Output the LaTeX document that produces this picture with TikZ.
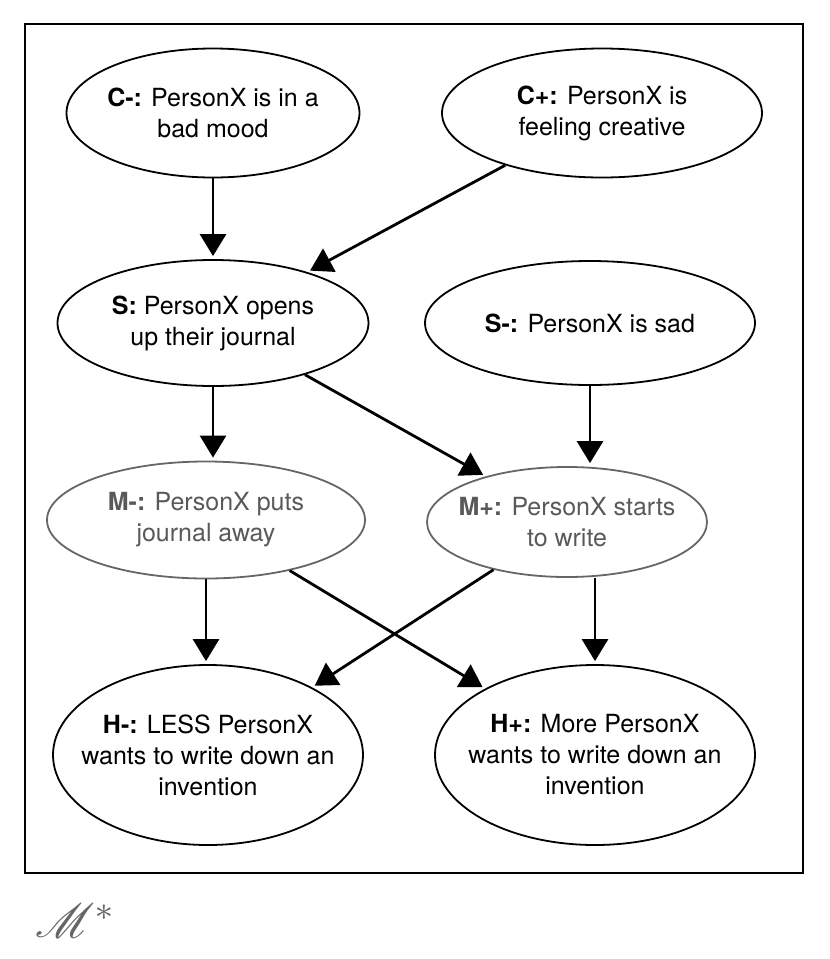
\documentclass[tikz,border=0pt]{standalone}
\usepackage{fontspec}
\setmainfont{TeX Gyre Heros}
\usepackage{mathrsfs}
\usetikzlibrary{arrows.meta,shapes.geometric}
\tikzset{
  ev/.style={draw,ellipse,line width=1.8pt,inner sep=-30pt,align=center,
    font=\fontsize{25}{31}\selectfont},
  greyev/.style={ev,draw=black!60,text=black!65},
  arr/.style={line width=2.8pt,-{Triangle[length=22pt,width=26pt]},shorten >=3pt}
}
\begin{document}
\begin{tikzpicture}[x=1pt,y=-1pt]
\useasboundingbox (0,0) rectangle (830,959);
\draw [line width=2.5pt] (25,24) rectangle (803,873);

% causes
\node[ev,minimum width=293pt,minimum height=129pt] (Cm) at (213,113) {\textbf{C-:} PersonX is in a\\bad mood};
\node[ev,minimum width=320pt,minimum height=129pt] (Cp) at (602,113) {\textbf{C+:} PersonX is\\feeling creative};

% situation
\node[ev,minimum width=311pt,minimum height=126pt] (S) at (213,323) {\textbf{S:} PersonX opens\\up their journal};
\node[ev,minimum width=330pt,minimum height=124pt] (Sm) at (590,323) {\textbf{S-:} PersonX is sad};

% mediators
\node[greyev,minimum width=318pt,minimum height=117pt] (Mm) at (206,520) {\textbf{M-:} PersonX puts\\journal away};
\node[greyev,minimum width=280pt,minimum height=110pt] (Mp) at (567,522) {\textbf{M+:} PersonX starts\\to write};

% hypotheses
\node[ev,minimum width=310pt,minimum height=180pt] (Hm) at (208,755) {\textbf{H-:} LESS PersonX\\wants to write down an\\invention};
\node[ev,minimum width=320pt,minimum height=180pt] (Hp) at (595,755) {\textbf{H+:} More PersonX\\wants to write down an\\invention};

\draw [arr] (Cm.south) -- (Cm.south |- S.north);
\draw [arr] (Cp) -- (S);
\draw [arr] (S.south) -- (S.south |- Mm.north);
\draw [arr] (S) -- (Mp);
\draw [arr] (Sm.south) -- (Sm.south |- Mp.north);
\draw [arr] (Mm.south) -- (Mm.south |- Hm.north);
\draw [arr] (Mm) -- (Hp);
\draw [arr] (Mp) -- (Hm);
\draw [arr] (Mp.south -| Hp.north) -- (Hp.north);

\node (mark) at (76,921) {\color{black!60}\scalebox{4.8}{$\mathscr{M}^{*}$}};
\end{tikzpicture}
\end{document}
